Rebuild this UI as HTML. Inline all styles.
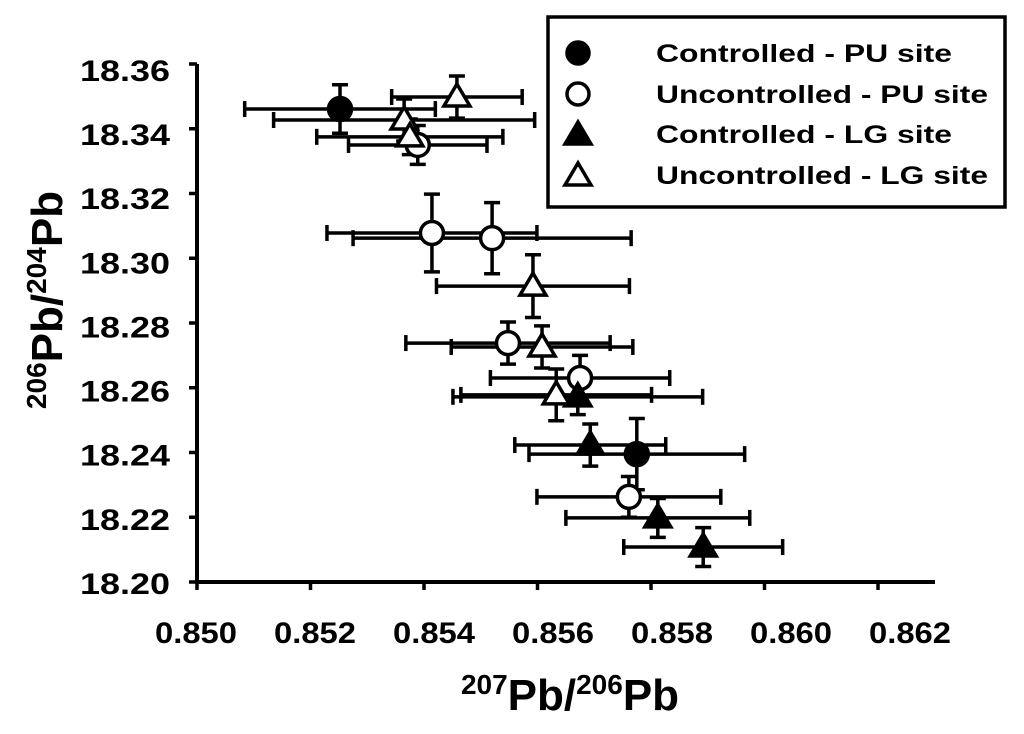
<!DOCTYPE html>
<html><head><meta charset="utf-8"><style>
html,body{margin:0;padding:0;background:#fff;}
svg text{font-family:"Liberation Sans",Arial,sans-serif;font-weight:bold;fill:#000;}
</style></head><body>
<svg id="chart" width="1024" height="729" viewBox="0 0 1024 729" xmlns="http://www.w3.org/2000/svg">
<g id="axes"></g>
<g id="marks"></g>
<g>
<rect x="548" y="17" width="457" height="190" fill="#fff" stroke="#000" stroke-width="3.5"/>
<circle cx="578" cy="53" r="11" fill="#000" stroke="#000" stroke-width="3.5"/>
<text x="656" y="62" font-size="25" textLength="296" lengthAdjust="spacingAndGlyphs">Controlled - PU site</text>
<circle cx="578" cy="94" r="11" fill="#fff" stroke="#000" stroke-width="3.5"/>
<text x="656" y="103" font-size="25" textLength="332" lengthAdjust="spacingAndGlyphs">Uncontrolled - PU site</text>
<polygon points="578,122 591,144 565,144" fill="#000" stroke="#000" stroke-width="3.5"/>
<text x="656" y="143" font-size="25" textLength="296" lengthAdjust="spacingAndGlyphs">Controlled - LG site</text>
<polygon points="578,163 591,185 565,185" fill="#fff" stroke="#000" stroke-width="3.5"/>
<text x="656" y="184" font-size="25" textLength="332" lengthAdjust="spacingAndGlyphs">Uncontrolled - LG site</text>
</g>
<text x="570" y="710" font-size="44" text-anchor="middle"><tspan font-size="28" dy="-16">207</tspan><tspan dy="16">Pb/</tspan><tspan font-size="28" dy="-16">206</tspan><tspan dy="16">Pb</tspan></text>
<text transform="translate(62,300) rotate(-90)" font-size="44" text-anchor="middle"><tspan font-size="28" dy="-16">206</tspan><tspan dy="16">Pb/</tspan><tspan font-size="28" dy="-16">204</tspan><tspan dy="16">Pb</tspan></text>
</svg>
<script>
const xTicks=[0.850,0.852,0.854,0.856,0.858,0.860,0.862];
const xTickLabels=["0.850","0.852","0.854","0.856","0.858","0.860","0.862"];
const yTicks=[18.20,18.22,18.24,18.26,18.28,18.30,18.32,18.34,18.36];
const yTickLabels=["18.20","18.22","18.24","18.26","18.28","18.30","18.32","18.34","18.36"];
const seriesType=["cc","oc","ft","ot"];
const ccX=[0.85252,0.85775];
const ccY=[18.3461,18.2395];
const ccXerr=[0.00168,0.0019];
const ccYerr=[0.0075,0.011];
const ocX=[0.85389,0.85414,0.8552,0.85548,0.85675,0.85761];
const ocY=[18.335,18.3078,18.3062,18.2738,18.263,18.2263];
const ocXerr=[0.00122,0.00185,0.00245,0.0018,0.00158,0.00162];
const ocYerr=[0.006,0.012,0.011,0.0065,0.007,0.0063];
const ftX=[0.85671,0.85693,0.85812,0.85892];
const ftY=[18.2572,18.2423,18.2198,18.2108];
const ftXerr=[0.0022,0.00133,0.00162,0.0014];
const ftYerr=[0.0055,0.0065,0.006,0.006];
const otX=[0.85458,0.85365,0.85375,0.85592,0.85608,0.85633];
const otY=[18.3498,18.3427,18.3375,18.2914,18.2726,18.2578];
const otXerr=[0.00115,0.0023,0.00164,0.0017,0.0016,0.00168];
const otYerr=[0.0065,0.0065,0.0055,0.0097,0.0065,0.008];

const NS="http://www.w3.org/2000/svg";
function X(v){return 197+(v-0.850)*56750;}
function Y(v){return 582-(v-18.20)*3237.5;}
function XL(v){return 196+(v-0.850)*59500;}
function YL(v){return 70+(18.36-v)*3206;}
function mk(tag,attrs,parent){const e=document.createElementNS(NS,tag);for(const k in attrs)e.setAttribute(k,attrs[k]);parent.appendChild(e);return e;}
const axes=document.getElementById('axes');
const marks=document.getElementById('marks');
let e=mk('line',{x1:197,y1:Y(18.36),x2:197,y2:582,stroke:'#000','stroke-width':4},axes);


e=mk('line',{x1:195,y1:582,x2:935,y2:582,stroke:'#000','stroke-width':4},axes);


xTicks.forEach((t,i)=>{
 let l=mk('line',{x1:X(t),y1:582,x2:X(t),y2:590,stroke:'#000','stroke-width':3.5},axes);
 
 
 let tx=mk('text',{x:XL(t),y:643,'font-size':30,'text-anchor':'middle',textLength:82,lengthAdjust:'spacingAndGlyphs'},axes);
 tx.textContent=xTickLabels[i];
 
 
});
yTicks.forEach((t,i)=>{
 let l=mk('line',{x1:189,y1:Y(t),x2:197,y2:Y(t),stroke:'#000','stroke-width':3.5},axes);
 
 
 let tx=mk('text',{x:170,y:YL(t)+11,'font-size':30,'text-anchor':'end',textLength:90,lengthAdjust:'spacingAndGlyphs'},axes);
 tx.textContent=yTickLabels[i];
 
 
});
const S={cc:[ccX,ccY,ccXerr,ccYerr],oc:[ocX,ocY,ocXerr,ocYerr],ft:[ftX,ftY,ftXerr,ftYerr],ot:[otX,otY,otXerr,otYerr]};
function errbars(xs,ys,xe,ye){
 for(let i=0;i<xs.length;i++){
  const cx=X(xs[i]),cy=Y(ys[i]),x0=X(xs[i]-xe[i]),x1=X(xs[i]+xe[i]),y0=Y(ys[i]+ye[i]),y1=Y(ys[i]-ye[i]);
  const g=mk('g',{stroke:'#000','stroke-width':3.5,fill:'none'},marks);
  
  
  mk('line',{x1:x0,y1:cy,x2:x1,y2:cy},g);
  mk('line',{x1:x0,y1:cy-8,x2:x0,y2:cy+8},g);
  mk('line',{x1:x1,y1:cy-8,x2:x1,y2:cy+8},g);
  mk('line',{x1:cx,y1:y0,x2:cx,y2:y1},g);
  mk('line',{x1:cx-8,y1:y0,x2:cx+8,y2:y0},g);
  mk('line',{x1:cx-8,y1:y1,x2:cx+8,y2:y1},g);
 }
}
seriesType.forEach(k=>errbars(...S[k]));
seriesType.forEach(k=>{
 const [xs,ys]=S[k];
 for(let i=0;i<xs.length;i++){
  const cx=X(xs[i]),cy=Y(ys[i]);
  const fill=(k==='cc'||k==='ft')?'#000':'#fff';
  let m;
  if(k==='cc'||k==='oc') m=mk('circle',{cx:cx,cy:cy,r:11.5,fill:fill,stroke:'#000','stroke-width':3.5},marks);
  else m=mk('polygon',{points:`${cx},${cy-13} ${cx+13},${cy+9} ${cx-13},${cy+9}`,fill:fill,stroke:'#000','stroke-width':3.5},marks);
  
  
 }
});
</script>
</body></html>
